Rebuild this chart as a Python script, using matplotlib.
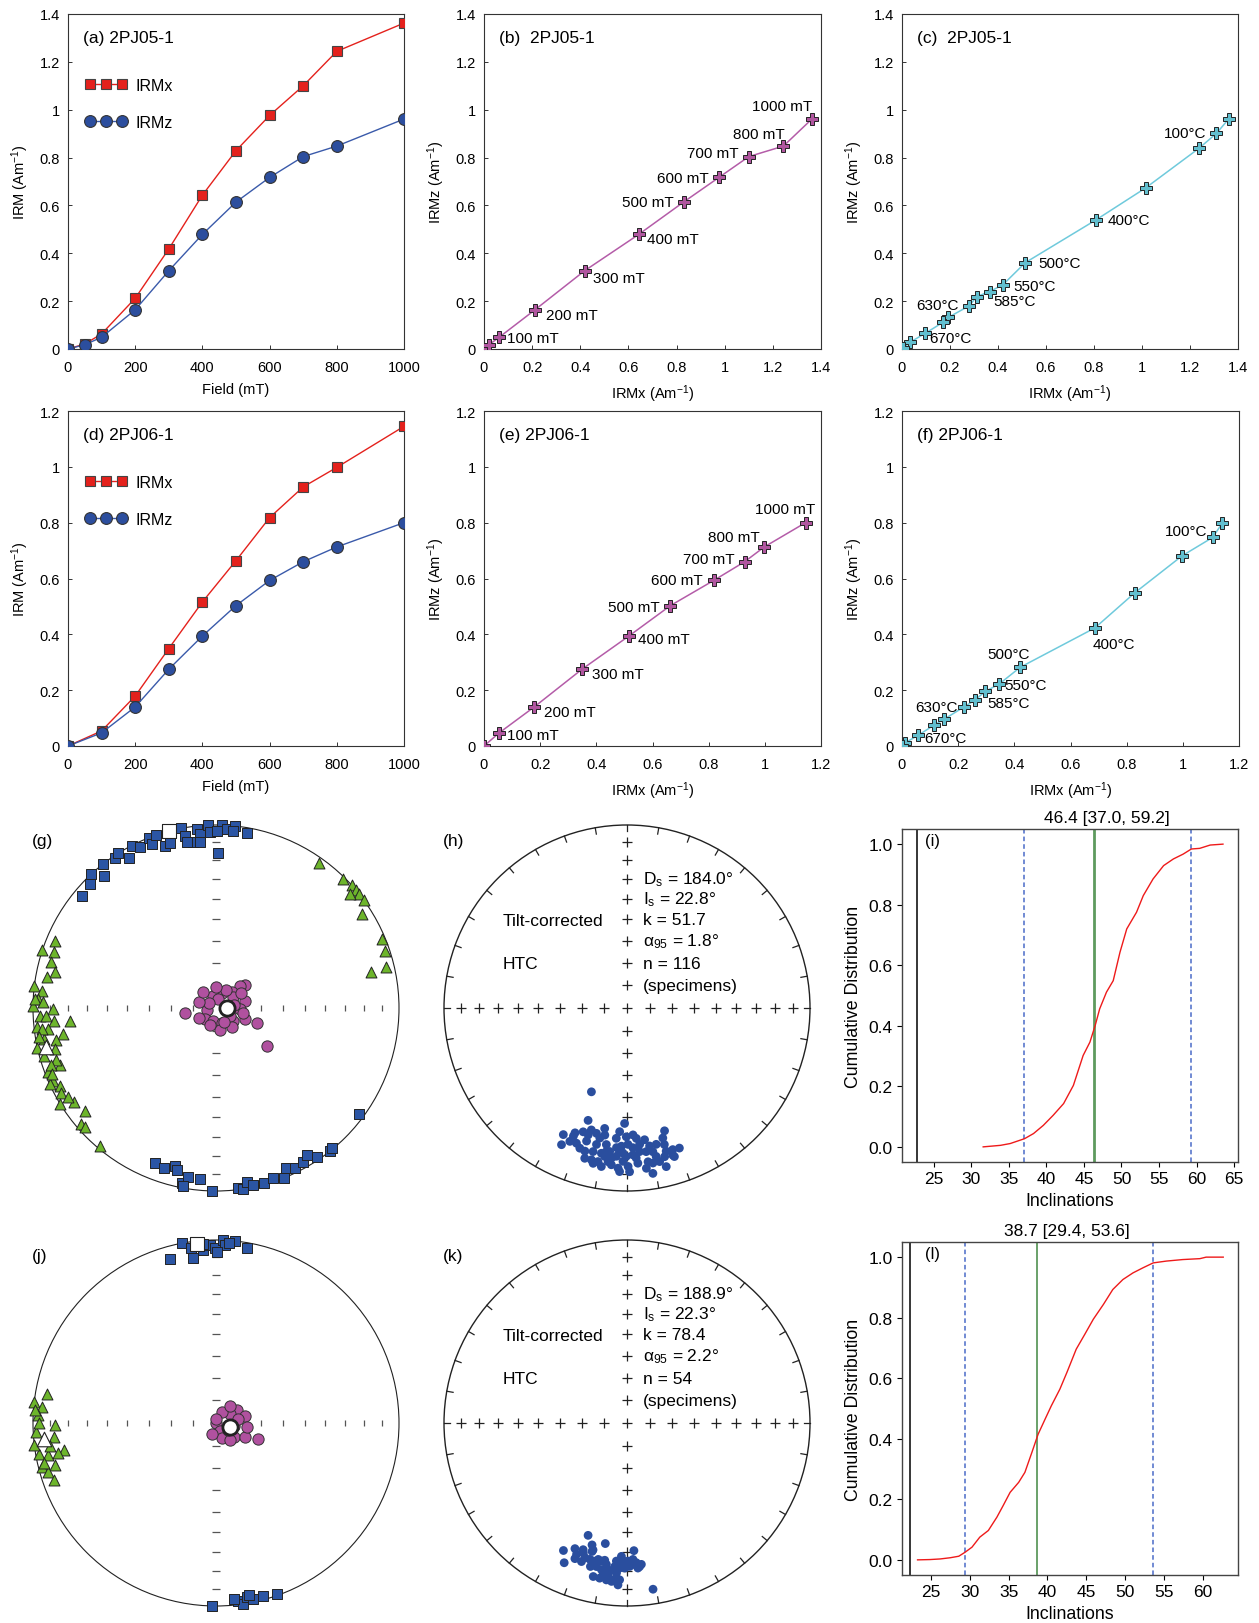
import numpy as np
import matplotlib.pyplot as plt
from matplotlib.patches import Circle
from matplotlib.ticker import FuncFormatter

plt.rcParams['font.family'] = ['Liberation Sans', 'DejaVu Sans']
plt.rcParams['mathtext.fontset'] = 'custom'
plt.rcParams['mathtext.rm'] = 'Liberation Sans'
plt.rcParams['mathtext.it'] = 'Liberation Sans:italic'
plt.rcParams['mathtext.default'] = 'regular'

# ---------------- IRM acquisition data ----------------
field_a = [0, 50, 100, 200, 300, 400, 500, 600, 700, 800, 1000]
irmx_a = [0, 0.021, 0.063, 0.212, 0.418, 0.643, 0.829, 0.976, 1.10, 1.244, 1.362]
irmz_a = [0, 0.018, 0.049, 0.164, 0.327, 0.479, 0.614, 0.717, 0.804, 0.848, 0.961]
field_b_labels = ['', '', '100 mT', '200 mT', '300 mT', '400 mT', '500 mT', '600 mT', '700 mT', '800 mT', '1000 mT']

field_d = [0, 100, 200, 300, 400, 500, 600, 700, 800, 1000]
irmx_d = [0, 0.054, 0.179, 0.349, 0.516, 0.664, 0.818, 0.928, 0.998, 1.145]
irmz_d = [0, 0.047, 0.140, 0.275, 0.394, 0.503, 0.593, 0.660, 0.713, 0.800]
field_e_labels = ['', '100 mT', '200 mT', '300 mT', '400 mT', '500 mT', '600 mT', '700 mT', '800 mT', '1000 mT']

# ---------------- thermal demagnetization of IRM ----------------
temp_c = [25, 100, 200, 300, 400, 500, 550, 585, 610, 630, 645, 660, 670, 680, 690]
tx_c = [1.361, 1.310, 1.239, 1.015, 0.809, 0.514, 0.421, 0.366, 0.311, 0.281, 0.193, 0.170, 0.096, 0.033, 0.006]
tz_c = [0.961, 0.901, 0.840, 0.673, 0.540, 0.361, 0.269, 0.240, 0.219, 0.181, 0.132, 0.111, 0.065, 0.028, 0.004]

temp_f = [25, 100, 200, 300, 400, 500, 550, 585, 610, 630, 645, 660, 670, 680, 690]
tx_f = [1.141, 1.106, 0.997, 0.828, 0.687, 0.421, 0.345, 0.297, 0.259, 0.221, 0.150, 0.113, 0.057, 0.012, 0.0]
tz_f = [0.799, 0.747, 0.681, 0.548, 0.423, 0.282, 0.221, 0.196, 0.164, 0.140, 0.096, 0.074, 0.038, 0.012, 0.0]

# ---------------- AMS directions (dec, inc) ----------------
g_k1_dec = [310, 314.5, 317, 319.6, 322, 326, 327.6, 329.8, 332.5, 334.7, 338.4, 338.6, 341, 342.6, 344.5,
            349, 349.8, 352, 353.8, 354.7, 357.6, 358, 0.9, 1.8, 3.4, 5.9, 9.9, 5.6, 350, 354.5, 0.2,
            201.4, 198.1, 194.6, 193.6, 191.1, 189.3, 190.6, 185.3, 181.3, 172.9, 171.4, 170, 168.1,
            164.8, 161.5, 158.3, 156.3, 153.6, 150.5, 148.4, 146, 141.4, 140.3, 126.4]
g_k1_inc = [5, 4, 0, 6, 0, 1, 0, 5.6, 0, 3, 0, 4, 0, 8, 7,
            0, 5, 9, 2, 5, 0, 4, 16.5, 0, 2, 0, 3, 3, 8.5, 9.5, 4,
            10, 9, 12, 10, 3, 7, 1, 7, 0, 1, 0, 4, 1,
            1, 2, 0, 5, 3, 4, 6, 2, 0, 1, 3]
g_k2_dec = [35.5, 44.6, 47.9, 49.8, 51.6, 53.9, 49.6, 57.2, 67.4, 71.3, 76.6, 77.1,
            292.7, 288.4, 288.9, 285.4, 282.5, 280.3, 277, 275.7, 272.9, 270.7, 269.7, 267.5, 265.5,
            265, 263.8, 262.9, 260.3, 259.8, 258.5, 257.5, 255.9, 254.4, 249.9, 249, 245.9, 243.5,
            245.4, 241.3, 236.5, 238.4, 231.9, 229.5, 227.7, 220.1, 272.8, 271.9, 267.4, 263,
            260.7, 251.9, 251, 248, 239]
g_k2_inc = [3, 1, 0, 0, 0, 0, 4, 6, 2, 3, 5, 14,
            5, 0, 7, 7, 11, 7, 0, 5, 3, 0, 12, 4, 12,
            21, 2, 8, 16.5, 5, 12, 0, 10, 3, 10, 2, 3, 5,
            0, 4, 8, 0, 10, 3, 4, 2, 1, 6, 8, 5,
            2, 9, 5, 4, 6]
g_k3_dec = [51.2, 47, 43.8, 19.9, 347.8, 254, 225, 191.9, 159.3, 126.2, 110.8, 75.8, 92.4, 58.4, 14.5,
            110, 126.6, 260.2, 306, 118.7, 30, 80, 140, 170, 200, 240, 290, 320, 100, 60, 0, 150]
g_k3_inc = [73.5, 75.5, 80, 82.7, 84.4, 86, 83.2, 84.3, 83, 80.6, 76.3, 76.7, 79.4, 81, 86,
            70.4, 61.8, 76.1, 86, 83, 81, 82, 79, 80, 82, 81.5, 82, 81, 78, 77, 80.5, 83]
g_mean_dec = [345, 257, 90]
g_mean_inc = [0, 5, 85.3]

j_k1_dec = [349.2, 344.4, 352, 352.2, 355.8, 358, 359.7, 2.3, 2.9, 5.9, 9.9, 0.5, 356, 4,
            181.3, 172.9, 171.5, 170, 168, 164.8, 160.4, 174, 169]
j_k1_inc = [0, 8, 4, 10, 6, 3, 5, 0, 3, 0, 3, 7, 2, 1.5,
            0, 2, 0, 4, 2, 2, 1, 4, 5]
j_k2_dec = [279.8, 276.6, 275.2, 272.5, 269.2, 267.1, 265.1, 264.8, 259.8, 260.2, 259.1, 259.2,
            255.4, 255.8, 253.7, 250.6, 274, 270, 262, 257, 263]
j_k2_inc = [7, 0, 5, 3, 13, 2, 12, 6, 16.5, 2, 13, 7,
            10, 2, 5, 7, 1, 4, 9, 4, 0]
j_k3_dec = [58.5, 76.4, 56.3, 27.3, 135, 156, 160, 128.9, 115.8, 97.4, 110.8, 6, 100, 140, 200, 80, 40, 120]
j_k3_inc = [79.3, 76.8, 82.7, 84.5, 89.9, 85.9, 82.7, 80, 75.8, 76.3, 70.2, 88, 82, 80, 85, 80, 80, 84]
j_mean_dec = [353.8, 264.8, 106.7]
j_mean_inc = [2, 6, 83.7]

# ---------------- site/specimen HTC directions ----------------
h_dec = [203, 199.1, 181.2, 163, 206.7, 205.6, 202.6, 199.5, 196.3, 190.5, 189.9, 184.7, 177.3, 172.4,
         167.9, 164.7, 159.5, 162.7, 166.1, 171.1, 176, 179.6, 183.2, 187, 190.7, 193.2, 196.4, 200.5,
         192.6, 188.2, 182.9, 177.7, 172.4, 168.9, 184.1, 180.3, 188.6, 182.3, 179.6, 174.7, 170.7,
         193.3, 190, 185.9, 181.5, 176.5, 172.2, 168, 162.1, 165.8, 175.9, 183.4, 193.7, 196.9, 203.2,
         198.6, 189.2, 192.3, 185.7, 182.6, 179.1, 175, 169.8, 164.7, 162.3, 170.5, 186.9, 191.8,
         177.6, 184.3, 197, 180.3, 164.6, 188.5, 173.1, 195.7, 202.7, 181.6]
h_inc = [48.8, 35.3, 37, 30.5, 23.6, 18.3, 27, 29, 31.2, 33.5, 30.2, 29.3, 31.2, 28.2,
         24.8, 23.7, 19.4, 16.9, 11.7, 9.4, 16.1, 14.5, 13.4, 16.5, 15.7, 15.9, 19.6, 22.2,
         24.6, 21.9, 22.7, 20.8, 21.9, 18.5, 19.9, 20, 25.5, 25.4, 26.4, 26.1, 24.6,
         20.5, 20.5, 18.7, 17.3, 19, 16.3, 15.3, 19.8, 17.3, 29.3, 32.8, 30.2, 25, 21.8,
         20.3, 13.3, 14.2, 15, 11.5, 11.5, 22.3, 21.3, 20, 15.9, 15.2, 22.1, 28.2,
         24.6, 24.5, 28.3, 30.3, 27.2, 19.1, 12.8, 15.8, 25.1, 21.8]
k_dec = [199.1, 190.2, 196, 206.5, 202.5, 199.1, 195, 176.9, 204.2, 201, 198.2, 195.2, 191.9, 189.2,
         194.3, 187.3, 184.4, 182.9, 179.6, 177.6, 175, 192.4, 190, 187, 185.1, 183.2, 171.1, 198.6,
         195.2, 190.5, 181.6, 176.2, 182.9, 186.6, 184, 185.6, 182.7, 188.3, 184.9, 178.9, 197.3,
         177.5, 175.7, 181.4, 192, 189, 180.9, 187.5, 189.9, 201, 193.7, 182.4, 174.2, 183.9]
k_inc = [35.3, 33.5, 31.3, 23.2, 26.6, 27.6, 29, 30.8, 17.4, 21.7, 21.4, 23.8, 24.8, 25,
         20.2, 20.2, 25.3, 21.7, 25.5, 23.7, 22.3, 15.2, 15, 16.5, 15.1, 12.4, 8.9, 26.1,
         28.1, 24.3, 24.6, 24.5, 23.7, 19.6, 19, 14.1, 15.3, 23, 22.3, 22.7, 23.9,
         26.3, 21.6, 25.5, 20.9, 17, 21.8, 14.6, 19.8, 24.1, 23.4, 27.9, 23.4, 16.1]
h_stats = ['D$_s$ = 184.0°', 'I$_s$ = 22.8°', 'k = 51.7', 'α$_{95}$ = 1.8°', 'n = 116', '(specimens)']
k_stats = ['D$_s$ = 188.9°', 'I$_s$ = 22.3°', 'k = 78.4', 'α$_{95}$ = 2.2°', 'n = 54', '(specimens)']

# ---------------- E/I bootstrap cumulative distributions ----------------
i_inc = [31.6, 33.9, 35.2, 37.1, 38.3, 39.6, 40.9, 42.3, 43.6, 44.9, 45.8, 46.5, 47.1, 48.0, 48.9,
         49.8, 50.7, 52.0, 52.9, 54.2, 55.6, 56.9, 58.2, 59.3, 60.4, 61.8, 63.5]
i_cdf = [0, 0.005, 0.011, 0.027, 0.044, 0.071, 0.104, 0.143, 0.203, 0.302, 0.346, 0.401, 0.456, 0.511,
         0.549, 0.643, 0.72, 0.775, 0.83, 0.885, 0.929, 0.951, 0.967, 0.984, 0.986, 0.997, 1.0]
i_lines = [22.8, 46.4, 37.0, 59.2]   # original, best, lower, upper
l_inc = [23.3, 24.9, 26.2, 27.5, 28.6, 29.4, 30.3, 31.3, 32.4, 33.5, 34.3, 35.2, 36.3, 37.1, 38.0,
         38.8, 39.7, 40.5, 41.6, 42.5, 43.7, 44.8, 45.9, 47.2, 48.4, 49.7, 51.0, 52.3, 53.6, 55.3,
         57.4, 59.6, 60.4, 62.6]
l_cdf = [0, 0.001, 0.003, 0.007, 0.012, 0.025, 0.042, 0.075, 0.097, 0.141, 0.179, 0.223, 0.256, 0.289,
         0.355, 0.415, 0.465, 0.509, 0.564, 0.619, 0.696, 0.745, 0.795, 0.844, 0.893, 0.926, 0.948,
         0.965, 0.981, 0.987, 0.992, 0.995, 1.0, 1.0]
l_lines = [22.3, 38.7, 29.4, 53.6]

# ---------------- figure ----------------
W, H = 1259, 1624
fig = plt.figure(figsize=(W / 100, H / 100), dpi=100)


def px_axes(x0, y0, x1, y1):
    return fig.add_axes([x0 / W, 1 - y1 / H, (x1 - x0) / W, (y1 - y0) / H])


gfmt = FuncFormatter(lambda v, p: f'{v:g}')


def style_xy(ax, xmax, xstep, ymax, ystep):
    ax.set_xlim(0, xmax)
    ax.set_ylim(0, ymax)
    ax.set_xticks(np.arange(0, xmax + 1e-9, xstep))
    ax.set_yticks(np.arange(0, ymax + 1e-9, ystep))
    ax.xaxis.set_major_formatter(gfmt)
    ax.yaxis.set_major_formatter(gfmt)
    ax.tick_params(direction='in', length=3, width=0.7, labelsize=10.5, color='#333')
    ax.tick_params(axis='x', pad=8)
    ax.tick_params(axis='y', pad=6)
    for s in ax.spines.values():
        s.set_linewidth(0.8)
        s.set_color('#333')


RED, BLUE = '#E4211C', '#2C4E9E'
MAG, CYAN = '#B0569F', '#62BFCF'


def irm_panel(ax, field, x, z, ymax, label):
    ax.plot(field, x, color=RED, lw=1, marker='s', ms=7.5, mfc=RED, mec='#444', mew=0.8, label='IRMx', zorder=3)
    ax.plot(field, z, color='#3A5AAA', lw=1, marker='o', ms=8.5, mfc=BLUE, mec='#333', mew=0.8, label='IRMz', zorder=3)
    style_xy(ax, 1000, 200, ymax, 0.2)
    ax.set_xlabel('Field (mT)', fontsize=10.5, labelpad=6)
    ax.set_ylabel('IRM (Am$^{-1}$)', fontsize=10.5, labelpad=6)
    ax.text(0.045, 0.93, label, transform=ax.transAxes, fontsize=12.5, va='center')
    ax.legend(loc='upper left', bbox_to_anchor=(0.05, 0.81), numpoints=3, frameon=False,
              fontsize=11.5, handlelength=2.6, handletextpad=0.6, labelspacing=1.4,
              borderpad=0, borderaxespad=0)


def ortho_panel(ax, x, z, labels, offsets, color, lcolor, xmax, ymax, label):
    ax.plot(x, z, color=lcolor, lw=1.1, marker='P', ms=9, mfc=color, mec='#222', mew=0.7, zorder=3)
    for xi, zi, lab, off in zip(x, z, labels, offsets):
        if lab:
            ax.annotate(lab, (xi, zi), xytext=off[:2], textcoords='offset points', fontsize=11,
                        ha=off[2], va='center')
    style_xy(ax, xmax, 0.2, ymax, 0.2)
    ax.set_xlabel('IRMx (Am$^{-1}$)', fontsize=10.5, labelpad=6)
    ax.set_ylabel('IRMz (Am$^{-1}$)', fontsize=10.5, labelpad=6)
    ax.text(0.045, 0.93, label, transform=ax.transAxes, fontsize=12.5, va='center')


# row 1
ax = px_axes(68, 15, 404, 350)
irm_panel(ax, field_a, irmx_a, irmz_a, 1.4, '(a) 2PJ05-1')

ax = px_axes(484, 15, 821, 350)
off_b = [None, None, (6, -0.5, 'left'), (8, -4, 'left'), (6, -5, 'left'), (6, -3.4, 'left'),
         (-7, 0, 'right'), (-7, -0.7, 'right'), (-7, 2.6, 'right'), (0.7, 8.6, 'right'), (0.5, 9.6, 'right')]
ortho_panel(ax, irmx_a, irmz_a, field_b_labels, off_b, MAG, '#B45CA8', 1.4, 1.4, '(b)  2PJ05-1')

ax = px_axes(902, 15, 1238, 350)
lab_c = ['', '100°C', '', '', '400°C', '500°C', '550°C', '585°C', '', '630°C', '', '', '670°C', '', '']
off_c = [None, (-7.2, 0, 'right'), None, None, (8, 0, 'left'), (9.4, -0.5, 'left'), (7.4, -0.7, 'left'),
         (2.6, -6.5, 'left'), None, (-7.9, 0.5, 'right'), None, None, (3.1, -3.6, 'left'), None, None]
ortho_panel(ax, tx_c, tz_c, lab_c, off_c, CYAN, '#6FCADC', 1.4, 1.4, '(c)  2PJ05-1')

# row 2
ax = px_axes(68, 412, 404, 747)
irm_panel(ax, field_d, irmx_d, irmz_d, 1.2, '(d) 2PJ06-1')

ax = px_axes(484, 412, 821, 747)
off_e = [None, (5.8, -1.2, 'left'), (7, -3.4, 'left'), (7.2, -3.1, 'left'), (6.5, -2.2, 'left'),
         (-8, -0.7, 'right'), (-7.7, 0.5, 'right'), (-7, 1.9, 'right'), (-3.6, 7.2, 'right'), (7.2, 9.6, 'right')]
ortho_panel(ax, irmx_d, irmz_d, field_e_labels, off_e, MAG, '#B45CA8', 1.2, 1.2, '(e) 2PJ06-1')

ax = px_axes(902, 412, 1239, 747)
lab_f = ['', '100°C', '', '', '400°C', '500°C', '550°C', '585°C', '', '630°C', '', '', '670°C', '', '']
off_f = [None, (-4, 5, 'right'), None, None, (-1.9, -11.3, 'left'), (-24, 9.8, 'left'), (3.8, -0.7, 'left'),
         (1.4, -8.4, 'left'), None, (-4.3, 0, 'right'), None, None, (4.8, -1.9, 'left'), None, None]
ortho_panel(ax, tx_f, tz_f, lab_f, off_f, CYAN, '#6FCADC', 1.2, 1.2, '(f) 2PJ06-1')


# ---------------- stereonets ----------------
def eqarea(dec, inc):
    d = np.radians(np.asarray(dec, float))
    i = np.radians(np.abs(np.asarray(inc, float)))
    r = np.sqrt(2) * np.sin((np.pi / 2 - i) / 2)
    return r * np.sin(d), r * np.cos(d)


R = 183
RK = np.sqrt(2) * np.sin(np.radians(5 * np.arange(1, 9)))


def net_axes(cx, cy, label):
    half = R * 1.1
    ax = px_axes(cx - half, cy - half, cx + half, cy + half)
    ax.set_xlim(-1.1, 1.1)
    ax.set_ylim(-1.1, 1.1)
    ax.set_aspect('equal')
    ax.axis('off')
    ax.text(-1.005, 0.913, label, fontsize=12.5, va='center')
    return ax


def ams_net(cx, cy, label, k1, k2, k3, means):
    ax = net_axes(cx, cy, label)
    ax.add_patch(Circle((0, 0), 1, fill=False, lw=0.8, ec='#222', zorder=1))
    zeros = np.zeros(16)
    ax.plot(np.r_[-RK, RK], zeros, ls='none', marker='|', ms=4.5, mew=0.9, color='#555', zorder=1)
    ax.plot(zeros, np.r_[-RK, RK], ls='none', marker='_', ms=5.5, mew=0.9, color='#555', zorder=1)
    x, y = eqarea(*k1)
    ax.scatter(x, y, marker='s', s=50, c='#2B55A4', edgecolors='#222', linewidths=0.7, zorder=3)
    x, y = eqarea(*k2)
    ax.scatter(x, y, marker='^', s=62, c='#6DB52B', edgecolors='#222', linewidths=0.7, zorder=3)
    x, y = eqarea(*k3)
    ax.scatter(x, y, marker='o', s=66, c='#B0519F', edgecolors='#333', linewidths=0.7, zorder=3)
    mx, my = eqarea(*means)
    ax.scatter(mx[0], my[0], marker='s', s=95, c='white', edgecolors='#222', linewidths=0.8, zorder=4)
    ax.scatter(mx[1], my[1], marker='^', s=110, c='white', edgecolors='#222', linewidths=0.8, zorder=4)
    ax.scatter(mx[2], my[2], marker='o', s=120, c='white', edgecolors='#222', linewidths=2, zorder=4)


def dir_net(cx, cy, label, dec, inc, stats):
    ax = net_axes(cx, cy, label)
    ax.add_patch(Circle((0, 0), 1, fill=False, lw=1.0, ec='#222', zorder=1))
    for az in np.radians(np.arange(0, 360, 10)):
        ax.plot([0.965 * np.sin(az), np.sin(az)], [0.965 * np.cos(az), np.cos(az)], color='#222', lw=0.9)
    rk0 = np.r_[0, RK]
    ax.plot(np.r_[-RK, rk0], np.zeros(17), ls='none', marker='+', ms=7, mew=0.9, color='#222')
    ax.plot(np.zeros(16), np.r_[-RK, RK], ls='none', marker='+', ms=7, mew=0.9, color='#222')
    x, y = eqarea(dec, inc)
    ax.scatter(x, y, marker='o', s=40, c='#2A4E9E', edgecolors='none', zorder=3)
    ax.text(-0.68, RK[3] - 0.005, 'Tilt-corrected', fontsize=12.5, va='center')
    ax.text(-0.68, RK[1], 'HTC', fontsize=12.5, va='center')
    rows = RK[5::-1]
    for t, yy in zip(stats, rows):
        ax.text(0.086, yy, t, fontsize=12.5, va='center')


ams_net(216, 1009, '(g)', (g_k1_dec, g_k1_inc), (g_k2_dec, g_k2_inc), (g_k3_dec, g_k3_inc),
        (g_mean_dec, g_mean_inc))
dir_net(627, 1009, '(h)', h_dec, h_inc, h_stats)
ams_net(216, 1424, '(j)', (j_k1_dec, j_k1_inc), (j_k2_dec, j_k2_inc), (j_k3_dec, j_k3_inc),
        (j_mean_dec, j_mean_inc))
dir_net(627, 1424, '(k)', k_dec, k_inc, k_stats)


# ---------------- cumulative distributions ----------------
def cdf_panel(ax, inc, cdf, lines, xlim, xticks, title, title_x, label, green_lw):
    orig, best, lo, hi = lines
    ax.axvline(orig, color='k', lw=1.1)
    ax.axvline(lo, color='#4A6BC8', lw=1.1, ls='--', dashes=(3, 2))
    ax.axvline(hi, color='#4A6BC8', lw=1.1, ls='--', dashes=(3, 2))
    ax.axvline(best, color='#5E9A5E', lw=green_lw)
    ax.plot(inc, cdf, color='#EE1A1A', lw=1)
    ax.set_xlim(*xlim)
    ax.set_ylim(-0.05, 1.05)
    ax.set_xticks(xticks)
    ax.set_yticks(np.arange(0, 1.01, 0.2))
    ax.yaxis.set_major_formatter(FuncFormatter(lambda v, p: f'{v:.1f}'))
    ax.tick_params(direction='out', length=3.5, width=0.8, labelsize=12.5, pad=3)
    for s in ax.spines.values():
        s.set_linewidth(1.0)
        s.set_color('#444')
    ax.set_xlabel('Inclinations', fontsize=12.8, labelpad=4)
    ax.set_ylabel('Cumulative Distribution', fontsize=12.8, labelpad=5)
    ax.text(title_x, 1.035, title, transform=ax.transAxes, ha='center', va='center', fontsize=12.5)
    ax.text(0.068, 0.965, label, transform=ax.transAxes, fontsize=12, va='center')


ax = px_axes(902, 830, 1238, 1163)
cdf_panel(ax, i_inc, i_cdf, i_lines, (20.8, 65.5), range(25, 66, 5), '46.4 [37.0, 59.2]', 0.61, '(i)', 2.0)
ax = px_axes(902, 1243, 1238, 1576)
cdf_panel(ax, l_inc, l_cdf, l_lines, (21.3, 64.5), range(25, 61, 5), '38.7 [29.4, 53.6]', 0.49, '(l)', 1.3)

fig.savefig('out.png', dpi=100)
